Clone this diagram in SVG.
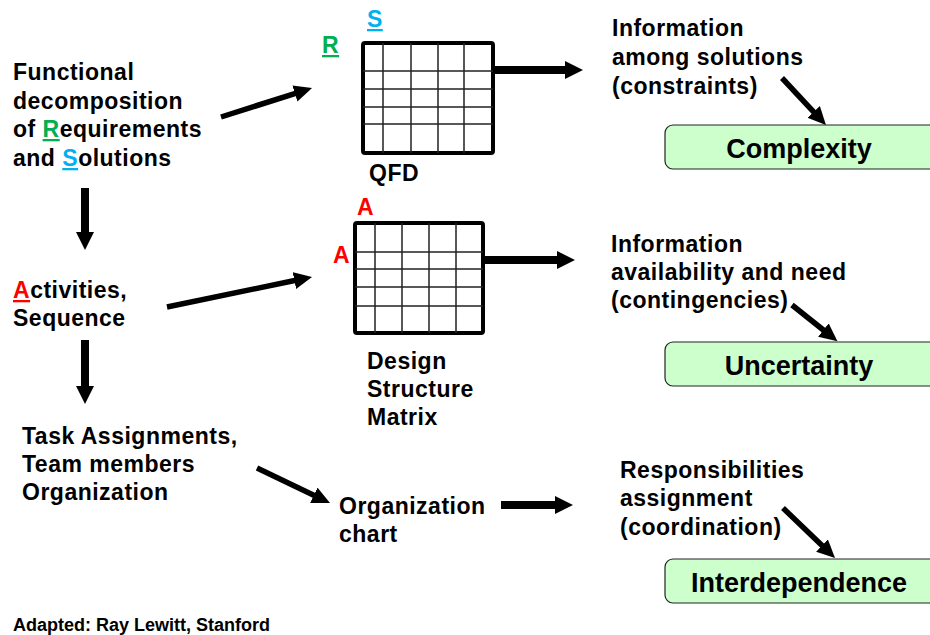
<svg xmlns="http://www.w3.org/2000/svg" width="930" height="635" viewBox="0 0 930 635">
  <style>
    text { font-family: "Liberation Sans", Arial, sans-serif; font-weight: bold; fill: #000; }
    .t { font-size: 23px; letter-spacing: 0.5px; }
    .big { font-size: 27px; text-anchor: middle; }
    .note { font-size: 18px; }
    .g { fill: #00b050; text-decoration: underline; }
    .c { fill: #00b0f0; text-decoration: underline; }
    .r { fill: #ff0000; }
    .ru { fill: #ff0000; text-decoration: underline; }
    .frame { fill: #fff; stroke: #000; stroke-width: 4; }
    .cell { stroke: #222; stroke-width: 1.5; fill: none; }
    .box { fill: #ccffcc; stroke: #222; stroke-width: 1.2; }
    .thick { stroke: #000; stroke-width: 8; fill: none; marker-end: url(#headL); }
    .thin { stroke: #000; stroke-width: 5.5; fill: none; marker-end: url(#headS); }
  </style>
  <defs>
    <marker id="headL" markerUnits="userSpaceOnUse" markerWidth="20" markerHeight="20" refX="4" refY="9" orient="auto">
      <path d="M0,0 L18,9 L0,18 z" fill="#000"/>
    </marker>
    <marker id="headS" markerUnits="userSpaceOnUse" markerWidth="20" markerHeight="20" refX="4" refY="8.5" orient="auto">
      <path d="M0,0 L18,8.5 L0,17 z" fill="#000"/>
    </marker>
  </defs>

  <rect width="930" height="635" fill="#fff"/>

  <!-- left column -->
  <g id="functional-decomposition">
    <text class="t" x="13" y="80">Functional</text>
    <text class="t" x="13" y="109">decomposition</text>
    <text class="t" x="13" y="137">of <tspan class="g">R</tspan>equirements</text>
    <text class="t" x="13" y="166">and <tspan class="c">S</tspan>olutions</text>
  </g>
  <g id="activities">
    <text class="t" x="13" y="298"><tspan class="ru">A</tspan>ctivities,</text>
    <text class="t" x="13" y="326">Sequence</text>
  </g>
  <g id="task-assignments">
    <text class="t" x="22" y="444">Task Assignments,</text>
    <text class="t" x="22" y="472">Team members</text>
    <text class="t" x="22" y="500">Organization</text>
  </g>

  <!-- QFD matrix -->
  <g id="qfd">
    <text class="t g" x="322" y="53">R</text>
    <text class="t c" x="367" y="27">S</text>
    <rect class="frame" x="363" y="43" width="130" height="110" rx="2"/>
    <path class="cell" d="M383,43V153 M411,43V153 M438,43V153 M464,43V153 M363,71H493 M363,89H493 M363,107H493 M363,124H493"/>
    <text class="t" x="369" y="181">QFD</text>
  </g>

  <!-- Design Structure Matrix -->
  <g id="dsm">
    <text class="t r" x="357" y="215">A</text>
    <text class="t r" x="333" y="263">A</text>
    <rect class="frame" x="355" y="223" width="128" height="110" rx="2"/>
    <path class="cell" d="M375,223V333 M402,223V333 M429,223V333 M456,223V333 M355,252H483 M355,269H483 M355,287H483 M355,306H483"/>
    <text class="t" x="367" y="369">Design</text>
    <text class="t" x="367" y="397">Structure</text>
    <text class="t" x="367" y="425">Matrix</text>
  </g>

  <g id="org-chart">
    <text class="t" x="339" y="514">Organization</text>
    <text class="t" x="339" y="542">chart</text>
  </g>

  <!-- right column -->
  <g id="info-solutions">
    <text class="t" x="612" y="36">Information</text>
    <text class="t" x="612" y="65">among solutions</text>
    <text class="t" x="612" y="94">(constraints)</text>
  </g>
  <g id="complexity">
    <rect class="box" x="665" y="125" width="280" height="44" rx="8"/>
    <text class="big" x="799" y="158">Complexity</text>
  </g>

  <g id="info-availability">
    <text class="t" x="611" y="252">Information</text>
    <text class="t" x="611" y="280">availability and need</text>
    <text class="t" x="611" y="308">(contingencies)</text>
  </g>
  <g id="uncertainty">
    <rect class="box" x="665" y="342" width="280" height="44" rx="8"/>
    <text class="big" x="799" y="375">Uncertainty</text>
  </g>

  <g id="responsibilities">
    <text class="t" x="620" y="478">Responsibilities</text>
    <text class="t" x="620" y="506">assignment</text>
    <text class="t" x="620" y="535">(coordination)</text>
  </g>
  <g id="interdependence">
    <rect class="box" x="665" y="559" width="280" height="44" rx="8"/>
    <text class="big" x="799" y="592">Interdependence</text>
  </g>

  <g id="credit">
    <text class="note" x="13" y="631">Adapted: Ray Lewitt, Stanford</text>
  </g>

  <!-- connectors -->
  <g id="connectors">
    <path class="thin" d="M221,117 L298.7,92.3"/>
    <path class="thick" d="M493,70 H569"/>
    <path class="thick" d="M483,260 H561"/>
    <path class="thick" d="M85,188 V236"/>
    <path class="thick" d="M85,340 V390"/>
    <path class="thin" d="M167,307 L298.3,279.8"/>
    <path class="thin" d="M257,468 L317.4,497"/>
    <path class="thick" d="M501,505 H559"/>
    <path class="thin" d="M782,78 L816.4,114.8"/>
    <path class="thin" d="M792,305 L826.5,332.5"/>
    <path class="thin" d="M783,508 L824.9,548.3"/>
  </g>
</svg>
